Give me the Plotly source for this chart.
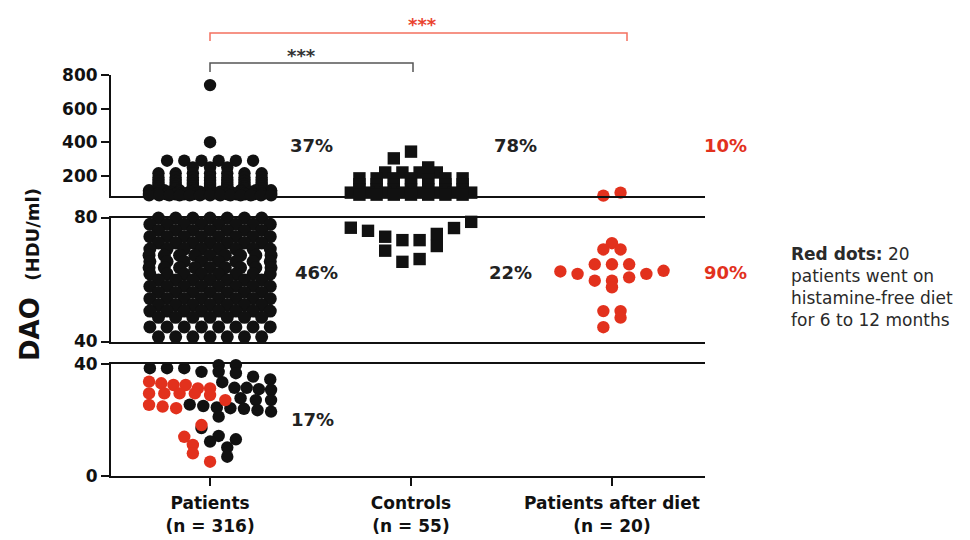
import plotly.graph_objects as go

# ---------------- data ----------------
categories = ["Patients<br>(n = 316)", "Controls<br>(n = 55)", "Patients after diet<br>(n = 20)"]

# Patients, upper segment (> 80 HDU/ml): DAO value rows and dot counts per row
pat_top_values = [740, 400, 290, 250, 215, 190, 170, 152, 138, 125, 114, 105, 97, 90, 84]
pat_top_counts = [1, 1, 6, 3, 7, 7, 7, 7, 7, 7, 9, 13, 14, 15, 13]

# Patients, middle segment (40-80)
pat_mid_values = [79.8, 77.8, 75.8, 73.8, 71.8, 69.8, 67.8, 65.8, 63.8, 61.8, 59.8,
                  57.8, 55.8, 53.8, 51.8, 49.8, 47.8, 44.7, 41.5]
pat_mid_counts = [7, 8, 7, 8, 7, 8, 9, 8, 9, 8, 7, 8, 7, 8, 7, 8, 7, 8, 7]

# Patients, lower segment (< 40): individual values
pat_low_black = [40.2, 40.2, 39.6, 39.6, 38.5, 38.5, 38.5, 37.2, 37.2, 36.7, 35.5, 34.5,
                 33.5, 31.5, 31.5, 31.0, 30.8, 27.8, 27.1, 27.1, 25.5, 25.0, 24.5, 24.2,
                 24.0, 23.5, 23.0, 21.2, 17.1, 14.3, 13.1, 12.3, 10.2, 6.9]
# the 20 patients who later went on the diet (baseline values, red)
pat_low_red = [33.7, 33.1, 32.5, 32.5, 31.3, 31.3, 29.5, 29.5, 29.5, 29.5, 28.9, 27.1,
               25.4, 24.8, 24.2, 18.2, 14.0, 11.1, 8.1, 5.1]

# Controls (squares)
ctl_top_high = [344, 304, 250]
ctl_top_values = [220, 185, 150, 120, 100, 88]
ctl_top_counts = [4, 7, 7, 7, 8, 7]
ctl_mid = [78.6, 76.7, 76.6, 75.7, 74.7, 73.8, 72.7, 72.7, 70.8, 69.3, 66.6, 65.7]

# Patients after diet (red)
diet_top = [82, 100]
diet_mid = [71.7, 69.7, 69.7, 64.9, 64.9, 64.9, 62.8, 62.6, 61.8, 61.8, 60.7, 59.6,
            59.6, 57.5, 49.8, 49.8, 47.7, 44.6]

pct_upper = ["37%", "78%", "10%"]
pct_middle = ["46%", "22%", "90%"]
pct_lower = ["17%"]

# ---------------- layout geometry (screen pixels; page body has an 8px margin) ----------------
OFF = 8
W, H = 970 - OFF, 540 - OFF
ML = 111 - OFF
MT = 75 - OFF
MR = W - (705 - OFF)
MB = H - (476 - OFF)
X_RANGE = [-0.493, 2.463]
PLOT_W = W - ML - MR
PLOT_H = H - MT - MB
PX_PER_X = PLOT_W / (X_RANGE[1] - X_RANGE[0])

BLACK = "#111111"
RED = "#e2311d"
DOT = 12.4
SPACING_PX = 17.2
HALF_MAX_PX = 61


def paper_y(sy):
    return (H - MB - (sy - OFF)) / PLOT_H


def paper_x(sx):
    return (sx - OFF - ML) / PLOT_W


dom_low = [0, paper_y(364)]
dom_mid = [paper_y(341.5), paper_y(217.5)]
dom_top = [paper_y(196), 1.0]
PPU_LOW = PLOT_H * (dom_low[1] - dom_low[0]) / 40.0
PPU_MID = PLOT_H * (dom_mid[1] - dom_mid[0]) / 40.0
PPU_TOP = PLOT_H * (dom_top[1] - dom_top[0]) / 720.0


def row_offsets(n):
    if n <= 1:
        return [0.0] * n
    sp = min(SPACING_PX, 2 * HALF_MAX_PX / (n - 1))
    return [(i - (n - 1) / 2) * sp / PX_PER_X for i in range(n)]


def rows(center, values, counts):
    xs, ys = [], []
    for v, n in zip(values, counts):
        for off in row_offsets(n):
            xs.append(center + off)
            ys.append(v)
    return xs, ys


def binned(center, items, lo, ppu, mode, bin_px=12):
    """items: list of (value, tag). Points are grouped in horizontal bins of bin_px pixels
    and spread side by side inside each bin (scatter dot plot layout)."""
    groups = {}
    for v, tag in items:
        groups.setdefault(int((v - lo) * ppu // bin_px), []).append((v, tag))
    out = []
    for pts in groups.values():
        offs = row_offsets(len(pts))
        if mode == "left":          # tagged points first, from the left
            pts = sorted(pts, key=lambda p: (p[1] != "r", -p[0]))
            slots = list(range(len(pts)))
        else:                       # centre-out
            pts = sorted(pts, key=lambda p: p[0], reverse=(mode == "desc"))
            slots = sorted(range(len(pts)), key=lambda k: (abs(offs[k]), offs[k]))
        for p, k in zip(pts, slots):
            out.append((center + offs[k], p[0], p[1]))
    return out


def dots(x, y, color, symbol, xa, ya, size=DOT):
    return go.Scatter(x=x, y=y, mode="markers", xaxis=xa, yaxis=ya,
                      marker=dict(size=size, color=color, symbol=symbol, line=dict(width=0)),
                      cliponaxis=False, showlegend=False, hoverinfo="skip")


def split(placed, tag):
    sel = [p for p in placed if p[2] == tag]
    return [p[0] for p in sel], [p[1] for p in sel]


fig = go.Figure()
# Patients
x, y = rows(0, pat_top_values, pat_top_counts)
fig.add_trace(dots(x, y, BLACK, "circle", "x3", "y3"))
x, y = rows(0, pat_mid_values, pat_mid_counts)
fig.add_trace(dots(x, y, BLACK, "circle", "x2", "y2", size=13))
low = binned(0, [(v, "b") for v in pat_low_black] + [(v, "r") for v in pat_low_red],
             0, PPU_LOW, "left")
x, y = split(low, "b")
fig.add_trace(dots(x, y, BLACK, "circle", "x", "y"))
x, y = split(low, "r")
fig.add_trace(dots(x, y, RED, "circle", "x", "y"))
# Controls
x, y = rows(1, ctl_top_values, ctl_top_counts)
ch = binned(1, [(v, "b") for v in ctl_top_high], 80, PPU_TOP, "desc", bin_px=24)
hx, hy = split(ch, "b")
fig.add_trace(dots(x + hx, y + hy, BLACK, "square", "x3", "y3"))
cm = binned(1, [(v, "b") for v in ctl_mid], 40, PPU_MID, "asc", bin_px=24)
x, y = split(cm, "b")
fig.add_trace(dots(x, y, BLACK, "square", "x2", "y2"))
# After diet
x = [2 + o for o in row_offsets(len(diet_top))]
fig.add_trace(dots(x, diet_top, RED, "circle", "x3", "y3"))
dm = binned(2, [(v, "r") for v in diet_mid], 40, PPU_MID, "asc")
x, y = split(dm, "r")
fig.add_trace(dots(x, y, RED, "circle", "x2", "y2"))

FONT = "DejaVu Sans"
tickfont = dict(family=FONT, size=17, color=BLACK, weight="bold")

axis_common = dict(showgrid=False, zeroline=False, showline=True, linecolor=BLACK,
                   linewidth=2, automargin=False)

fig.update_layout(
    width=W, height=H, template="none",
    paper_bgcolor="white", plot_bgcolor="white",
    margin=dict(l=ML, r=MR, t=MT, b=MB, pad=0),
    xaxis=dict(domain=[0, 1], range=X_RANGE, anchor="y", mirror=True,
               tickvals=[0, 1, 2], ticktext=categories, ticks="outside", ticklen=8,
               tickwidth=2, tickcolor=BLACK,
               tickfont=dict(family=FONT, size=17, color=BLACK, weight="bold"),
               ticklabelstandoff=3, **axis_common),
    xaxis2=dict(domain=[0, 1], matches="x", anchor="y2", mirror=True, showticklabels=False,
                ticks="", **axis_common),
    xaxis3=dict(domain=[0, 1], matches="x", anchor="y3", mirror=False, showticklabels=False,
                ticks="", **axis_common),
    yaxis=dict(domain=dom_low, range=[0, 40], anchor="x", tickvals=[0, 40], ticks="outside",
               ticklen=8, tickwidth=2, tickcolor=BLACK, tickfont=tickfont, **axis_common),
    yaxis2=dict(domain=dom_mid, range=[40, 80], anchor="x2", tickvals=[40, 80], ticks="outside",
                ticklen=8, tickwidth=2, tickcolor=BLACK, tickfont=tickfont, **axis_common),
    yaxis3=dict(domain=dom_top, range=[80, 800], anchor="x3", tickvals=[200, 400, 600, 800],
                ticks="outside", ticklen=8, tickwidth=2, tickcolor=BLACK, tickfont=tickfont,
                **axis_common),
)

ann = []
pct_font = dict(family=FONT, size=18, color="#222222", weight="bold")
red_font = dict(family=FONT, size=18, color=RED, weight="bold")
for txt, px, f in zip(pct_upper, [311, 515, 726], [pct_font, pct_font, red_font]):
    ann.append(dict(text=txt, x=paper_x(px), y=paper_y(145), font=f))
for txt, px, f in zip(pct_middle, [316, 510, 726], [pct_font, pct_font, red_font]):
    ann.append(dict(text=txt, x=paper_x(px), y=paper_y(272), font=f))
for txt, px in zip(pct_lower, [312]):
    ann.append(dict(text=txt, x=paper_x(px), y=paper_y(419), font=pct_font))

# significance stars
ann.append(dict(text="***", x=paper_x(301), y=paper_y(55),
                font=dict(family=FONT, size=18, color="#333333", weight="bold")))
ann.append(dict(text="***", x=paper_x(422), y=paper_y(24),
                font=dict(family=FONT, size=18, color="#ea4430", weight="bold")))

# y-axis title
ann.append(dict(text="<b>DAO</b>  <span style='font-size:18px'><b>(HDU/ml)</b></span>",
                x=paper_x(30), y=paper_y(275), textangle=-90,
                font=dict(family=FONT, size=26, color=BLACK)))

# side note
ann.append(dict(text="<b>Red dots:</b> 20<br>patients went on<br>histamine-free diet<br>for 6 to 12 months",
                x=paper_x(789), y=paper_y(287), xanchor="left", align="left",
                font=dict(family=FONT, size=17, color="#2a2a2a")))

for a in ann:
    a.update(xref="paper", yref="paper", showarrow=False)
    a.setdefault("xanchor", "center")
    a.setdefault("yanchor", "middle")
fig.update_layout(annotations=ann)

# brackets
x0, x1b, x2r = paper_x(210), paper_x(413), paper_x(627)
fig.update_layout(shapes=[
    dict(type="path", xref="paper", yref="paper",
         path=f"M {x0},{paper_y(72)} L {x0},{paper_y(63)} L {x1b},{paper_y(63)} L {x1b},{paper_y(72)}",
         line=dict(color="#555555", width=1.5)),
    dict(type="path", xref="paper", yref="paper",
         path=f"M {x0},{paper_y(41)} L {x0},{paper_y(33)} L {x2r},{paper_y(33)} L {x2r},{paper_y(41)}",
         line=dict(color="#f4705f", width=1.5)),
])

fig.write_html("out.html")
